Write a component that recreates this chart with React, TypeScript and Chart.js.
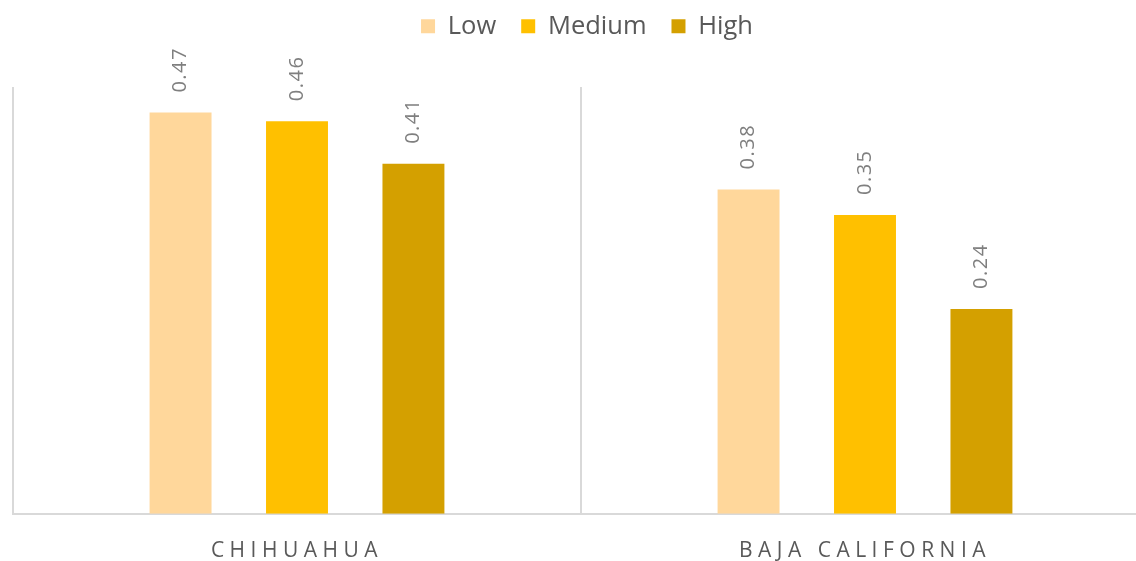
import React, { useEffect, useRef } from 'react';
import { Chart, registerables } from 'chart.js';

Chart.register(...registerables);

const categories = ['CHIHUAHUA', 'BAJA CALIFORNIA'];
const seriesNames = ['Low', 'Medium', 'High'];
const lowValues = [0.47, 0.38];
const mediumValues = [0.46, 0.35];
const highValues = [0.41, 0.24];
const seriesColors = ['#FFD79B', '#FFC000', '#D4A000'];
const yMin = 0;
const yMax = 0.5;

export default function App() {
  const ref = useRef<HTMLCanvasElement>(null);

  useEffect(() => {
    document.body.style.overflow = 'hidden';
    const canvas = ref.current;
    if (!canvas) return;

    const legendSpacer = {
      id: 'legendSpacer',
      beforeLayout(chart: any) {
        const lg = chart.legend;
        if (lg && !lg._spacerPatched) {
          const origFit = lg.fit;
          lg.fit = function () {
            origFit.call(this);
            this.height += 39.5;
          };
          const origDraw = lg.draw;
          lg.draw = function (...args: any[]) {
            this.ctx.save();
            this.ctx.translate(6, 1.5);
            origDraw.apply(this, args);
            this.ctx.restore();
          };
          lg._spacerPatched = true;
        }
      },
    };

    const valueLabels = {
      id: 'valueLabels',
      afterDatasetsDraw(chart: any) {
        const ctx = chart.ctx;
        ctx.save();
        ctx.font = '20px "Open Sans"';
        ctx.letterSpacing = '1.5px';
        ctx.fillStyle = '#7F7F7F';
        ctx.textAlign = 'left';
        ctx.textBaseline = 'middle';
        chart.data.datasets.forEach((ds: any, i: number) => {
          const meta = chart.getDatasetMeta(i);
          meta.data.forEach((bar: any, j: number) => {
            const v = ds.data[j] as number;
            ctx.save();
            ctx.translate(bar.x, bar.y - 20);
            ctx.rotate(-Math.PI / 2);
            ctx.fillText(v.toFixed(2), 0, 0);
            ctx.restore();
          });
        });
        ctx.restore();
        ctx.letterSpacing = '5.5px';
      },
      afterDraw(chart: any) {
        chart.ctx.letterSpacing = '0px';
      },
    };

    const chart = new Chart(canvas, {
      type: 'bar',
      data: {
        labels: categories,
        datasets: [
          { label: seriesNames[0], data: lowValues, backgroundColor: seriesColors[0] },
          { label: seriesNames[1], data: mediumValues, backgroundColor: seriesColors[1] },
          { label: seriesNames[2], data: highValues, backgroundColor: seriesColors[2] },
        ],
      },
      options: {
        animation: false,
        responsive: true,
        maintainAspectRatio: false,
        datasets: {
          bar: { categoryPercentage: 0.615, barPercentage: 0.532 },
        },
        layout: { padding: { left: 13, right: 11, top: 0, bottom: 1 } },
        plugins: {
          tooltip: { enabled: false },
          legend: {
            position: 'top',
            labels: {
              font: { family: 'Open Sans', size: 25.5 },
              color: '#595959',
              boxWidth: 14,
              boxHeight: 14,
              padding: 25,
            },
          },
        },
        scales: {
          x: {
            offset: true,
            grid: { offset: true, display: true, drawTicks: false, color: '#D9D9D9', lineWidth: 2 },
            border: { display: true, color: '#D9D9D9', width: 2 },
            ticks: {
              z: 1,
              padding: 25,
              color: '#595959',
              font: { family: 'Open Sans', size: 21 },
            },
          },
          y: { display: false, min: yMin, max: yMax },
        },
      },
      plugins: [legendSpacer, valueLabels],
    } as any);

    return () => chart.destroy();
  }, []);

  return (
    <div style={{ position: 'fixed', left: 0, top: -13, width: 1160, height: 603 }}>
      <canvas ref={ref} />
    </div>
  );
}
